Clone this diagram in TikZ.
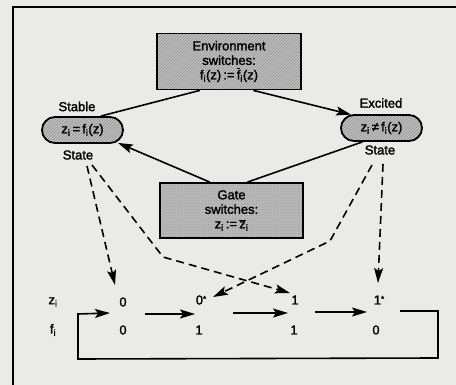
\documentclass[tikz,border=0pt]{standalone}
\usepackage{fontspec}
\setmainfont[FakeBold=1.8]{Liberation Sans}
\usetikzlibrary{arrows.meta,calc,patterns}
\definecolor{paper}{RGB}{234,234,231}
\newcommand\ovl[1]{\mbox{$\overline{\mbox{#1}}$}}
\newcommand\ix[1]{#1\textsubscript{i}}
\newcommand\smallstar{{\fontsize{8}{8}\selectfont\raisebox{3pt}{*}}}

\begin{document}
\begin{tikzpicture}[x=1pt,y=-1pt,
  txt/.style={font=\fontsize{13}{14.5}\selectfont, inner sep=1pt},
  hatchA/.style={preaction={fill=gray!50}, pattern=north east lines, pattern color=gray!85},
  hatchB/.style={preaction={fill=gray!55}, pattern=crosshatch dots, pattern color=gray!80},
  switchbox/.style={txt, draw, line width=1.8pt, minimum width=144pt, minimum height=56pt, align=center},
  statepill/.style={txt, draw, line width=1.8pt, rounded corners=13pt, minimum width=81pt, minimum height=26pt},
  link/.style={line width=1.6pt},
  arr/.style={-{Stealth[length=15pt,width=9pt,inset=3pt]}},
  dashlink/.style={link, dash pattern=on 8pt off 5pt}]

  \useasboundingbox (0,0) rectangle (456,385);
  \fill[paper] (0,0) rectangle (456,385);

  % outer frame (open to the right and bottom)
  \draw[line width=1.9pt] (13,385) -- (13,7) -- (456,7);

  % switching boxes
  \node[switchbox, hatchA] (env) at (229,61.5)
    {Environment\\switches:\\\ix{f}(z)\,:=\,\ix{\ovl{f}}(z)};
  \node[switchbox, hatchB, minimum width=143pt, minimum height=55pt] (gate) at (231.5,210.5)
    {Gate\\switches:\\\ix{z}\,:=\,\ix{\ovl{z}}};

  % states
  \node[statepill, hatchA] (stable) at (82.5,130) {\ix{z}\,=\,\ix{f}(z)};
  \node[statepill, hatchA] (excited) at (381.5,128) {\ix{z}\,≠\,\ix{f}(z)};
  \node[txt] (stabletop) at (77,106.5) {Stable};
  \node[txt] (stablebot) at (78,155) {State};
  \node[txt] (excitedtop) at (381,103) {Excited};
  \node[txt] (excitedbot) at (380,150) {State};

  % transitions between the states
  \draw[link] ($(env.south west)!0.3!(env.south east)$) -- ($(stable.north west)!0.72!(stable.north east)$);
  \draw[link, arr] ($(env.south west)!0.667!(env.south east)$) -- ($(excited.north west)+(11,0.5)$);
  \draw[link, arr] ($(gate.north west)!0.35!(gate.north east)$) -- ($(stable.south east)+(-6,-1)$);
  \draw[link] ($(gate.north west)!0.61!(gate.north east)$) -- ($(excited.south west)!0.27!(excited.south east)$);

  % value rows
  \node[txt] (zlabel) at (53,302) {\ix{z}};
  \node[txt] (flabel) at (53,330) {\ix{f}};
  \node[txt] (z1) at (123,302) {0};
  \node[txt] (z2) at (201,300) {0\smallstar};
  \node[txt] (z3) at (295,300) {1};
  \node[txt] (z4) at (379,300) {1\smallstar};
  \node[txt] (f1) at (123,330) {0};
  \node[txt] (f2) at (199,330) {1};
  \node[txt] (f3) at (294,330) {1};
  \node[txt] (f4) at (376,330) {0};

  % sequence arrows and the return loop
  \coordinate (s1) at (145,314); \coordinate (e1) at (195,314);
  \coordinate (s2) at (233,313); \coordinate (e2) at (288,313);
  \coordinate (s3) at (315,312); \coordinate (e3) at (367,312);
  \draw[link, arr] (s1) -- (e1);
  \draw[link, arr] (s2) -- (e2);
  \draw[link, arr] (s3) -- (e3);
  \coordinate (loopA) at (400,311);
  \coordinate (loopB) at (438,311);
  \coordinate (loopC) at (438,358);
  \coordinate (loopD) at (78,359);
  \coordinate (loopE) at (78,314);
  \coordinate (loopF) at (110,313);
  \draw[link, arr] (loopA) -- (loopB) -- (loopC) -- (loopD) -- (loopE) -- (loopF);

  % state correspondences
  \coordinate (bendL) at (163,257);
  \coordinate (bendR) at (330,241);
  \draw[dashlink, arr] ($(stablebot)+(9,11)$) -- ($(z1)+(-8,-17)$);
  \draw[dashlink, arr] ($(stablebot)+(14,10)$) -- (bendL) -- ($(z3)+(-5,-7)$);
  \draw[dashlink, arr] ($(excitedbot)+(-8,15)$) -- (bendR) -- ($(z2)+(12,-3)$);
  \draw[dashlink, arr] ($(excitedbot)+(3,14)$) -- ($(z4)+(-1,-17)$);
\end{tikzpicture}
\end{document}
